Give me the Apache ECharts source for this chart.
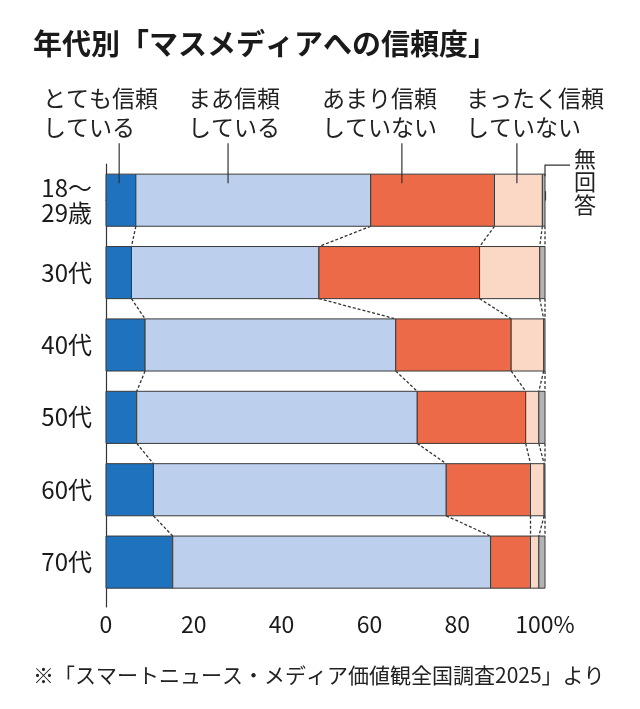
<!DOCTYPE html>
<html>
<head>
<meta charset="utf-8">
<script src="https://cdn.jsdelivr.net/npm/echarts@6/dist/echarts.min.js"></script>
<style>
html,body{margin:0;padding:0;background:#fff;}
#chart{width:640px;height:709px;}
</style>
</head>
<body>
<div id="chart"></div>
<script>
// ---- data ----
const categories = ['18～\n29歳', '30代', '40代', '50代', '60代', '70代'];
const seriesNames = ['とても信頼している', 'まあ信頼している', 'あまり信頼していない', 'まったく信頼していない', '無回答'];
const veryTrust     = [6.8, 5.8, 8.9, 7.0, 10.8, 15.2];
const somewhatTrust = [53.5, 42.7, 57.1, 63.9, 66.7, 72.4];
const notMuchTrust  = [28.2, 36.6, 26.3, 24.7, 19.2, 9.1];
const noTrustAtAll  = [10.9, 13.7, 7.4, 3.0, 3.1, 1.9];
const noAnswer      = [0.6, 1.2, 0.3, 1.4, 0.2, 1.4];
const xTickLabels = ['0', '20', '40', '60', '80', '100%'];
const legendLabels = ['とても信頼\nしている', 'まあ信頼\nしている', 'あまり信頼\nしていない', 'まったく信頼\nしていない'];
const legendAnchorValues = [3.0, 27.8, 67.4, 93.6];
const noAnswerLabel = '無\n回\n答';

// ---- style ----
const colors = ['#1f72bd', '#bccfec', '#ec6a48', '#fbd8c6', '#b3b3b3'];
const FONT = '"Noto Sans CJK JP", "Noto Sans", sans-serif';
const BAR_RATIO = 0.72;
const STROKE = '#3a3a3a';

const allValues = [veryTrust, somewhatTrust, notMuchTrust, noTrustAtAll, noAnswer];

// cumulative boundaries per category
const cum = categories.map((c, i) => {
  const arr = [0];
  let s = 0;
  allValues.forEach(v => { s += v[i]; arr.push(s); });
  return arr;
});

const barSeries = allValues.map((vals, k) => ({
  name: seriesNames[k],
  type: 'custom',
  coordinateSystem: 'cartesian2d',
  encode: { x: [0, 1], y: 2 },
  z: 2,
  data: categories.map((c, i) => [cum[i][k], cum[i][k + 1], i]),
  renderItem: function (params, api) {
    const a = api.coord([api.value(0), api.value(2)]);
    const b = api.coord([api.value(1), api.value(2)]);
    const h = api.size([0, BAR_RATIO])[1];
    return {
      type: 'rect',
      shape: { x: a[0], y: a[1] - h / 2, width: b[0] - a[0], height: h },
      style: { fill: colors[k], stroke: STROKE, lineWidth: 1 }
    };
  }
}));

// dashed connectors between consecutive bars
const connectorData = [];
for (let i = 0; i < categories.length - 1; i++) {
  for (let k = 1; k <= allValues.length; k++) {
    connectorData.push([cum[i][k], cum[i + 1][k], i]);
  }
}
const connectorSeries = {
  type: 'custom',
  coordinateSystem: 'cartesian2d',
  encode: { x: [0, 1], y: 2 },
  z: 1,
  silent: true,
  data: connectorData,
  renderItem: function (params, api) {
    const i = api.value(2);
    const h = api.size([0, BAR_RATIO])[1];
    const a = api.coord([api.value(0), i]);
    const b = api.coord([api.value(1), i + 1]);
    return {
      type: 'line',
      shape: { x1: a[0], y1: a[1] + h / 2, x2: b[0], y2: b[1] - h / 2 },
      style: { stroke: '#333', lineWidth: 1.3, lineDash: [3, 2] }
    };
  }
};

// leader lines from legend labels into first bar
const leaderSeries = {
  type: 'custom',
  coordinateSystem: 'cartesian2d',
  encode: { x: 0, y: 1 },
  z: 5,
  silent: true,
  data: legendAnchorValues.map(v => [v, 0]),
  renderItem: function (params, api) {
    const p = api.coord([api.value(0), api.value(1)]);
    const h = api.size([0, BAR_RATIO])[1];
    const top = p[1] - h / 2;
    return {
      type: 'line',
      shape: { x1: p[0], y1: top - 31, x2: p[0], y2: top + 9 },
      style: { stroke: '#333', lineWidth: 1.2 }
    };
  }
};

const noAnswerLeader = {
  type: 'custom',
  coordinateSystem: 'cartesian2d',
  encode: { x: 0, y: 1 },
  z: 5,
  silent: true,
  data: [[100, 0]],
  renderItem: function (params, api) {
    const p = api.coord([api.value(0), api.value(1)]);
    const h = api.size([0, BAR_RATIO])[1];
    const top = p[1] - h / 2;
    return {
      type: 'polyline',
      shape: { points: [[p[0], top + 2], [p[0], top - 9], [p[0] + 25, top - 9]] },
      style: { stroke: '#333', lineWidth: 1.2, fill: null }
    };
  }
};

const legendLefts = [43, 188, 322, 466];
const graphics = legendLabels.map((t, i) => ({
  type: 'text',
  left: legendLefts[i],
  top: 84,
  style: { text: t, font: '23px ' + FONT, fill: '#222', lineHeight: 29 }
}));
graphics.push({
  type: 'text', left: 574, top: 147,
  style: { text: noAnswerLabel, font: '22px ' + FONT, fill: '#222', lineHeight: 23 }
});
graphics.push({
  type: 'text', left: 33, top: 665,
  style: { text: '※「スマートニュース・メディア価値観全国調査2025」より', font: '21px ' + FONT, fill: '#222' }
});

const chart = echarts.init(document.getElementById('chart'));
chart.setOption({
  backgroundColor: '#fff',
  animation: false,
  title: {
    text: '年代別「マスメディアへの信頼度」',
    left: 28, top: 24,
    textStyle: { fontFamily: FONT, fontSize: 29, fontWeight: 'bold', color: '#1a1a1a' }
  },
  grid: { left: 106, right: 95, top: 164, bottom: 102, containLabel: false, outerBoundsMode: 'none' },
  xAxis: {
    type: 'value', min: 0, max: 100, interval: 20,
    axisLine: { show: true, lineStyle: { color: '#333', width: 1.2 } },
    axisTick: { show: true, inside: true, length: 9, lineStyle: { color: '#333', width: 1.2 } },
    splitLine: { show: false },
    axisLabel: {
      margin: 6, fontSize: 23, fontFamily: FONT, color: '#1a1a1a',
      formatter: v => xTickLabels[Math.round(v / 20)]
    }
  },
  yAxis: {
    type: 'value', inverse: true, min: -0.5, max: 5.62,
    axisLine: { show: true, lineStyle: { color: '#333', width: 1.2 } },
    axisTick: { show: false },
    splitLine: { show: false },
    axisLabel: {
      customValues: [0, 1, 2, 3, 4, 5],
      margin: 14, fontSize: 24, fontFamily: FONT, color: '#1a1a1a', lineHeight: 25,
      formatter: v => categories[Math.round(v)]
    }
  },
  graphic: graphics,
  series: [connectorSeries].concat(barSeries, [leaderSeries, noAnswerLeader])
});
</script>
</body>
</html>
